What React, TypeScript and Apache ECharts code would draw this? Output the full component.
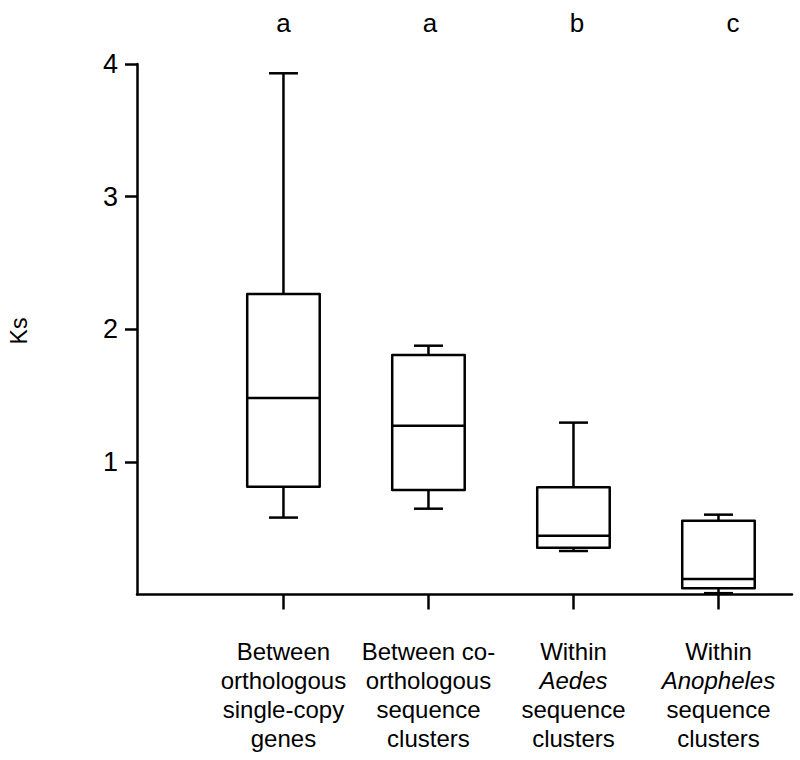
import React, { useEffect, useRef } from 'react';
import * as echarts from 'echarts';

const categories = [
  'Between\northologous\nsingle-copy\ngenes',
  'Between co-\northologous\nsequence\nclusters',
  'Within\nAedes\nsequence\nclusters',
  'Within\nAnopheles\nsequence\nclusters',
];
const italicTerms = ['Aedes', 'Anopheles'];
const positions = [1, 2, 3, 4];
const whiskerLow = [0.58, 0.647, 0.328, 0.01];
const quartile1 = [0.813, 0.788, 0.353, 0.047];
const median = [1.482, 1.273, 0.443, 0.117];
const quartile3 = [2.266, 1.806, 0.808, 0.557];
const whiskerHigh = [3.93, 1.876, 1.296, 0.602];
const groupLetters = ['a', 'a', 'b', 'c'];
const yTicks = [1, 2, 3, 4];
const yAxisTitle = 'Ks';

const FONT = 'Arial, "Liberation Sans", sans-serif';
const LW = 2.5;

export default function App() {
  const ref = useRef<HTMLDivElement>(null);

  useEffect(() => {
    if (!ref.current) return;
    const chart = echarts.init(ref.current, null, { renderer: 'svg' });

    const rows = positions.map((p, i) => [
      p,
      whiskerLow[i],
      quartile1[i],
      median[i],
      quartile3[i],
      whiskerHigh[i],
    ]);

    const stroke = {
      stroke: '#000',
      lineWidth: LW,
      fill: 'none',
      lineJoin: 'round',
    };

    const option: any = {
      animation: false,
      backgroundColor: '#fff',
      grid: { left: 137, right: 8, top: 64, bottom: 165.5, containLabel: false },
      xAxis: [
        {
          type: 'value',
          min: -0.01,
          max: 4.507,
          interval: 1,
          splitLine: { show: false },
          axisLine: { show: true, onZero: false, lineStyle: { color: '#000', width: LW } },
          axisTick: {
            show: true,
            customValues: positions,
            length: 15,
            lineStyle: { color: '#000', width: LW },
          },
          axisLabel: {
            show: true,
            customValues: positions,
            margin: 42,
            color: '#000',
            fontSize: 24,
            lineHeight: 29,
            fontFamily: FONT,
            verticalAlign: 'top',
            formatter: (v: number) => {
              const idx = Math.round(v) - 1;
              const txt = categories[idx];
              if (!txt) return '';
              return txt
                .split('\n')
                .map((ln) => (italicTerms.includes(ln) ? `{i|${ln}}` : `{n|${ln}}`))
                .join('\n');
            },
            rich: {
              n: { fontSize: 24, lineHeight: 29, fontFamily: FONT, color: '#000' },
              i: { fontSize: 24, lineHeight: 29, fontFamily: FONT, color: '#000', fontStyle: 'italic' },
            },
          },
        },
        {
          type: 'value',
          position: 'top',
          min: -0.01,
          max: 4.507,
          interval: 1,
          splitLine: { show: false },
          axisLine: { show: false },
          axisTick: { show: false },
          axisLabel: {
            show: true,
            customValues: positions,
            margin: 28,
            color: '#000',
            fontSize: 26,
            fontFamily: FONT,
            formatter: (v: number) => {
              const idx = Math.round(v) - 1;
              const l = groupLetters[idx];
              return l ? `{l${idx}|${l}}` : '';
            },
            rich: {
              l0: { fontSize: 26, fontFamily: FONT, color: '#000' },
              l1: { fontSize: 26, fontFamily: FONT, color: '#000', padding: [0, 0, 0, 3] },
              l2: { fontSize: 26, fontFamily: FONT, color: '#000', padding: [0, 0, 0, 7] },
              l3: { fontSize: 26, fontFamily: FONT, color: '#000', padding: [0, 0, 0, 29] },
            },
          },
        },
      ],
      yAxis: {
        type: 'value',
        min: 0,
        max: 4,
        interval: 1,
        splitLine: { show: false },
        axisLine: { show: true, onZero: false, lineStyle: { color: '#000', width: LW } },
        axisTick: {
          show: true,
          customValues: yTicks,
          length: 12,
          lineStyle: { color: '#000', width: LW },
        },
        axisLabel: {
          show: true,
          customValues: yTicks,
          margin: 19,
          color: '#000',
          fontSize: 27,
          fontFamily: FONT,
        },
      },
      graphic: [
        {
          type: 'text',
          x: 19,
          y: 331,
          rotation: Math.PI / 2,
          style: {
            text: yAxisTitle,
            fontSize: 23,
            fontFamily: FONT,
            fill: '#000',
            align: 'center',
            verticalAlign: 'middle',
          },
        },
      ],
      series: [
        {
          type: 'custom',
          xAxisIndex: 0,
          yAxisIndex: 0,
          clip: false,
          encode: { x: 0, y: [1, 2, 3, 4, 5] },
          data: rows,
          renderItem: (params: any, api: any) => {
            const x = api.value(0);
            const low = api.coord([x, api.value(1)]);
            const b1 = api.coord([x, api.value(2)]);
            const med = api.coord([x, api.value(3)]);
            const b3 = api.coord([x, api.value(4)]);
            const high = api.coord([x, api.value(5)]);
            const half = api.size([0.25, 0])[0];
            const cap = api.size([0.1, 0])[0];
            const cx = low[0];
            return {
              type: 'group',
              children: [
                { type: 'line', shape: { x1: cx, y1: b3[1], x2: cx, y2: high[1] }, style: stroke },
                { type: 'line', shape: { x1: cx - cap, y1: high[1], x2: cx + cap, y2: high[1] }, style: stroke },
                { type: 'line', shape: { x1: cx, y1: b1[1], x2: cx, y2: low[1] }, style: stroke },
                { type: 'line', shape: { x1: cx - cap, y1: low[1], x2: cx + cap, y2: low[1] }, style: stroke },
                {
                  type: 'rect',
                  shape: { x: cx - half, y: b3[1], width: 2 * half, height: b1[1] - b3[1] },
                  style: stroke,
                },
                { type: 'line', shape: { x1: cx - half, y1: med[1], x2: cx + half, y2: med[1] }, style: stroke },
              ],
            };
          },
        },
      ],
    };

    chart.setOption(option);
    return () => chart.dispose();
  }, []);

  return (
    <div
      ref={ref}
      style={{ position: 'absolute', left: 0, top: 0, width: 800, height: 760, background: '#fff' }}
    />
  );
}
